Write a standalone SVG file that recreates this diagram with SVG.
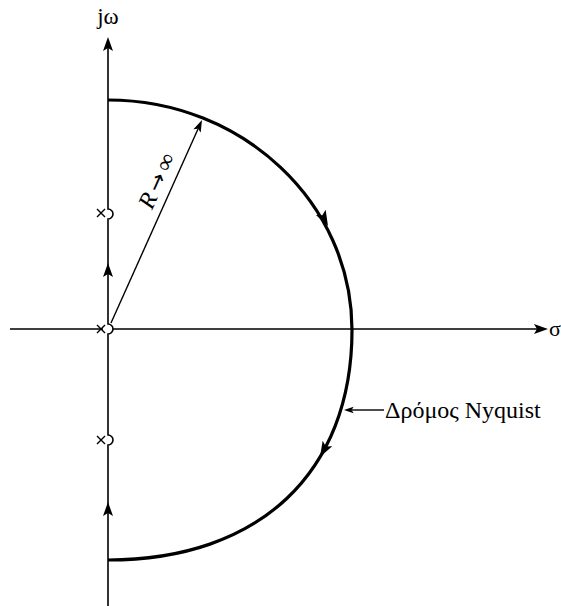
<svg xmlns="http://www.w3.org/2000/svg" width="561" height="606" viewBox="0 0 561 606">
<style>
.ax{fill:none;stroke:#000;stroke-width:1.6}
.arc{fill:none;stroke:#000;stroke-width:3.2}
.thin{fill:none;stroke:#000;stroke-width:1.4}
.t{font-family:"Liberation Serif","DejaVu Serif",serif;fill:#000}
</style>
<defs>
<polygon id="ah" points="0,0 -14,-5 -11,0 -14,5" fill="#000"/>
<polygon id="ahs" points="0,0 -12,-4 -9.5,0 -12,4" fill="#000"/>
</defs>
<rect width="561" height="606" fill="#fff"/>
<g id="connectors">
<path class="ax" d="M108,606 V445 A5,5 0 0 0 108,435 V334 A5,5 0 0 0 108,324 V219 A5,5 0 0 0 108,209 V46"/>
<use href="#ah" transform="translate(108,37) rotate(-90)"/>
<path class="ax" d="M10,329 H103 M113,329 H540"/>
<use href="#ah" transform="translate(548,329)"/>
<use href="#ah" transform="translate(108,263) rotate(-90)"/>
<use href="#ah" transform="translate(108,502) rotate(-90)"/>
<path class="arc" d="M108,100 C242.8,100 352,203 352,330 C352,472.6 259.3,560 108,560"/>
<use href="#ah" transform="translate(328,226) rotate(62) scale(1.1)"/>
<use href="#ah" transform="translate(320,457) rotate(119) scale(1.1)"/>
<line class="thin" x1="111" y1="323" x2="198" y2="129"/>
<use href="#ahs" transform="translate(202,120) rotate(-65.7)"/>
<line class="thin" x1="352" y1="410" x2="384" y2="410"/>
<use href="#ahs" transform="translate(344,410) rotate(180) scale(0.8)"/>
</g>
<g id="poles" class="thin">
<path d="M97,209 l8,8 M105,209 l-8,8"/>
<path d="M97,325 l8,8 M105,325 l-8,8"/>
<path d="M97,436 l8,8 M105,436 l-8,8"/>
</g>
<g id="labels">
<text class="t" x="108" y="24" font-size="23" text-anchor="middle">jω</text>
<text class="t" x="549" y="336" font-size="22">σ</text>
<text class="t" x="385" y="418" font-size="24">Δρόμος Nyquist</text>
<text class="t" font-size="24" text-anchor="middle" transform="translate(164,184) rotate(-65.7)"><tspan font-style="italic">R</tspan><tspan dx="4" font-family="DejaVu Sans, sans-serif" font-size="22">→</tspan><tspan dx="4">∞</tspan></text>
</g>
</svg>
